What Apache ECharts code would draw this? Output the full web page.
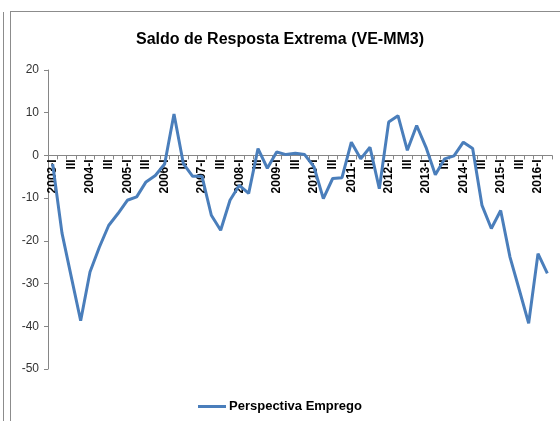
<!DOCTYPE html>
<html>
<head>
<meta charset="utf-8">
<script src="https://cdn.jsdelivr.net/npm/echarts@6/dist/echarts.min.js"></script>
<style>
  html, body { margin: 0; padding: 0; background: #fff; }
  #wrap { position: relative; width: 560px; height: 421px; overflow: hidden; }
  #chart { position: absolute; left: 0; top: 0; width: 560px; height: 421px; }
  .frame { position: absolute; border: 1px solid #8c8c8c; }
</style>
</head>
<body>
<div id="wrap">
  <div class="frame" style="left:3px; top:12px; width:0; height:420px; border-width:0 0 0 1px;"></div>
  <div class="frame" style="left:10px; top:11px; width:560px; height:420px;"></div>
  <div id="chart"></div>
</div>
<script>
// trimestres 2003-I .. 2016-II
var years = [2003, 2004, 2005, 2006, 2007, 2008, 2009, 2010, 2011, 2012, 2013, 2014, 2015, 2016]
var quarters = ['I', 'II', 'III', 'IV']

var categories = []
years.forEach(function (y) {
  quarters.forEach(function (q) {
    if (y === 2016 && (q === 'III' || q === 'IV')) return
    categories.push(q === 'I' ? y + '-I' : q)
  })
})

// Perspectiva Emprego (saldo, VE-MM3)
var perspectivaEmprego = [
  -2, -18.2, -28.5, -38.7,
  -27.3, -21.5, -16.4, -13.6,
  -10.5, -9.7, -6.2, -4.7,
  -2, 9.7, -1.9, -4.9,
  -4.9, -14, -17.5, -10.5,
  -7, -8.9, 1.6, -3,
  0.8, 0.2, 0.5, 0.2,
  -2.7, -10.1, -5.4, -5.2,
  3.1, -0.8, 1.9, -7.8,
  7.8, 9.3, 1.2, 7,
  1.9, -4.5, -0.8, -0.1,
  3.1, 1.6, -11.7, -17.1,
  -12.9, -23.8, -31.5, -39.3,
  -23, -27.6
]

var yTicks = { min: -50, max: 20, step: 10 }

var gridTop = 70
var gridBottom = 52
var plotHeight = 421 - gridTop - gridBottom
// distance from the grid bottom up to the zero line
var zeroOffset = plotHeight * (0 - yTicks.min) / (yTicks.max - yTicks.min)

var chart = echarts.init(document.getElementById('chart'), null, { renderer: 'canvas' })

chart.setOption({
  animation: false,
  backgroundColor: 'transparent',
  title: {
    text: 'Saldo de Resposta Extrema (VE-MM3)',
    left: 'center',
    top: 27,
    textStyle: {
      fontFamily: 'Liberation Sans',
      fontWeight: 'bold',
      fontSize: 16,
      color: '#000'
    }
  },
  legend: {
    bottom: 3,
    left: 'center',
    itemWidth: 28,
    itemHeight: 3,
    itemGap: 4,
    icon: 'rect',
    textStyle: {
      fontFamily: 'Liberation Sans',
      fontWeight: 'bold',
      fontSize: 13,
      color: '#000',
      padding: [0, 0, 0, -2]
    },
    data: ['Perspectiva Emprego']
  },
  grid: {
    left: 48,
    right: 8,
    top: gridTop,
    bottom: gridBottom,
    containLabel: false
  },
  xAxis: {
    type: 'category',
    data: categories,
    boundaryGap: true,
    position: 'bottom',
    offset: -zeroOffset,
    z: 1,
    axisLine: {
      onZero: false,
      lineStyle: { color: '#868686', width: 1 }
    },
    axisTick: {
      show: true,
      interval: 0,
      length: 4,
      lineStyle: { color: '#868686' }
    },
    axisLabel: {
      interval: 1,
      rotate: 90,
      margin: 4,
      fontFamily: 'Liberation Sans Narrow, Liberation Sans',
      fontWeight: 'bold',
      fontSize: 12,
      color: '#000'
    },
    splitLine: { show: false }
  },
  yAxis: {
    type: 'value',
    min: yTicks.min,
    max: yTicks.max,
    interval: yTicks.step,
    axisLine: {
      show: true,
      lineStyle: { color: '#868686', width: 1 }
    },
    axisTick: {
      show: true,
      length: 4,
      lineStyle: { color: '#868686' }
    },
    axisLabel: {
      margin: 9,
      fontFamily: 'Liberation Sans',
      fontSize: 12,
      color: '#333'
    },
    splitLine: { show: false }
  },
  series: [{
    name: 'Perspectiva Emprego',
    type: 'line',
    z: 5,
    data: perspectivaEmprego,
    symbol: 'none',
    smooth: false,
    itemStyle: { color: '#4a7ebb' },
    lineStyle: { color: '#4a7ebb', width: 3 }
  }]
})
</script>
</body>
</html>
